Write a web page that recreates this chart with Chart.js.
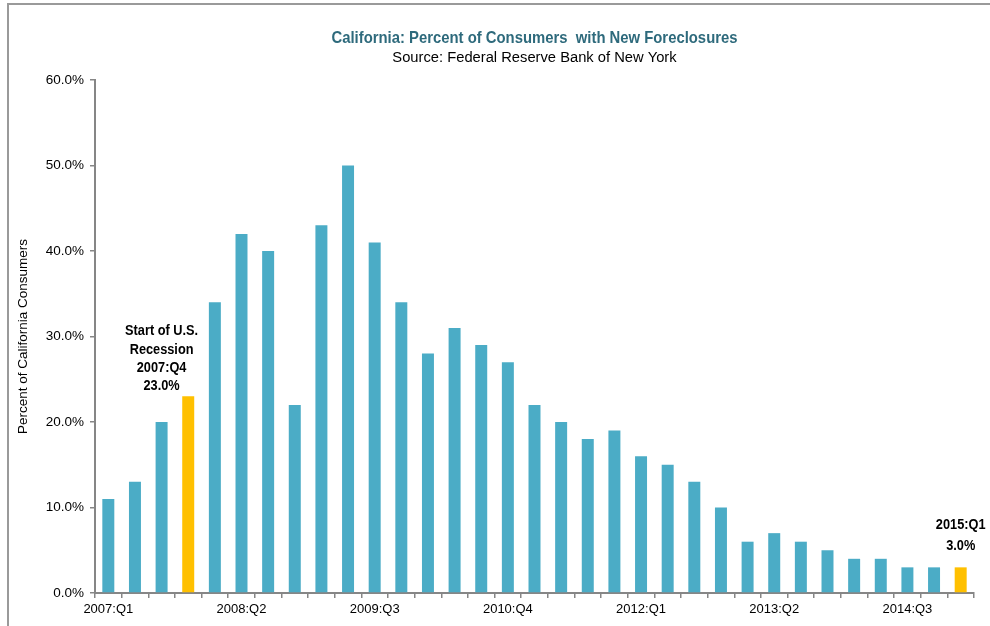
<!DOCTYPE html>
<html>
<head>
<meta charset="utf-8">
<script src="https://cdn.jsdelivr.net/npm/chart.js@4"></script>
<style>
  html, body { margin: 0; padding: 0; background: #fff; }
  #wrap { width: 990px; height: 626px; position: relative; }
</style>
</head>
<body>
<div id="wrap"><canvas id="myChart" width="990" height="626"></canvas></div>
<script>
'use strict';
// quarters 2007:Q1 .. 2015:Q1
const quarters = ['2007:Q1', '2007:Q2', '2007:Q3', '2007:Q4', '2008:Q1', '2008:Q2', '2008:Q3', '2008:Q4',
  '2009:Q1', '2009:Q2', '2009:Q3', '2009:Q4', '2010:Q1', '2010:Q2', '2010:Q3', '2010:Q4',
  '2011:Q1', '2011:Q2', '2011:Q3', '2011:Q4', '2012:Q1', '2012:Q2', '2012:Q3', '2012:Q4',
  '2013:Q1', '2013:Q2', '2013:Q3', '2013:Q4', '2014:Q1', '2014:Q2', '2014:Q3', '2014:Q4', '2015:Q1'];
const foreclosurePct = [11, 13, 20, 23, 34, 42, 40, 22, 43, 50, 41, 34, 28, 31, 29, 27,
  22, 20, 18, 19, 16, 15, 13, 10, 6, 7, 6, 5, 4, 4, 3, 3, 3];
const shownLabels = ['2007:Q1', '2008:Q2', '2009:Q3', '2010:Q4', '2012:Q1', '2013:Q2', '2014:Q3'];
const highlighted = ['2007:Q4', '2015:Q1'];
const notes = {
  '2007:Q4': ['Start of U.S.', 'Recession', '2007:Q4', '23.0%'],
  '2015:Q1': ['2015:Q1', '3.0%']
};
const chartTitle = 'California: Percent of Consumers  with New Foreclosures';
const chartSubtitle = 'Source: Federal Reserve Bank of New York';
/*----------------------------------------------*/
const blue = '#4BACC6';
const gold = '#FFC000';
const axisGray = '#868686';
const barColors = quarters.map(q => highlighted.includes(q) ? gold : blue);

// draw text squeezed sideways (the original uses a narrow font)
function narrowText(ctx, text, x, y, squeeze) {
  ctx.save();
  ctx.translate(x, y);
  ctx.scale(squeeze, 1);
  ctx.fillText(text, 0, 0);
  ctx.restore();
}

// frame lines (top + left) and the two title lines centred over the plot
const framePlugin = {
  id: 'frame',
  beforeDraw(chart) {
    const ctx = chart.ctx;
    const area = chart.chartArea;
    const cx = (area.left + area.right) / 2;
    ctx.save();
    ctx.strokeStyle = '#9a9a9a';
    ctx.lineWidth = 2;
    ctx.beginPath();
    ctx.moveTo(8, 626);
    ctx.lineTo(8, 4);
    ctx.lineTo(990, 4);
    ctx.stroke();

    ctx.textAlign = 'center';
    ctx.textBaseline = 'middle';
    ctx.fillStyle = '#2E6A7C';
    ctx.font = 'bold 16.5px "Liberation Sans", Arial, sans-serif';
    narrowText(ctx, chartTitle, cx, 38, 0.9);
    ctx.fillStyle = '#000';
    ctx.font = '15.5px "Liberation Sans", Arial, sans-serif';
    narrowText(ctx, chartSubtitle, cx, 58, 0.95);
    ctx.restore();
  }
};

// bold text notes above the highlighted bars
const notePlugin = {
  id: 'notes',
  afterDatasetsDraw(chart) {
    const ctx = chart.ctx;
    const xs = chart.scales.x;
    const ys = chart.scales.y;
    const step = xs.getPixelForValue(1) - xs.getPixelForValue(0);
    ctx.save();
    ctx.font = 'bold 14.5px "Liberation Sans", Arial, sans-serif';
    ctx.fillStyle = '#000';
    ctx.textAlign = 'center';
    ctx.textBaseline = 'middle';
    Object.keys(notes).forEach(q => {
      const i = quarters.indexOf(q);
      const lines = notes[q];
      const top = ys.getPixelForValue(foreclosurePct[i]);
      let cx = xs.getPixelForValue(i);
      if (lines.length > 2) {
        cx -= step;
      }
      const lh = lines.length > 2 ? 18.3 : 21;
      const lastY = top - (lines.length > 2 ? 10 : 21);
      lines.forEach((t, k) => {
        narrowText(ctx, t, cx, lastY - (lines.length - 1 - k) * lh, 0.88);
      });
    });
    ctx.restore();
  }
};

const ctx = document.getElementById('myChart').getContext('2d');
const chart = new Chart(ctx, {
  type: 'bar',
  data: {
    labels: quarters,
    datasets: [{
      label: 'Percent of California Consumers',
      data: foreclosurePct,
      backgroundColor: barColors,
      borderWidth: 0,
      barPercentage: 0.45,
      categoryPercentage: 1
    }]
  },
  options: {
    responsive: false,
    animation: false,
    layout: { padding: { left: 0, right: 16, top: 80, bottom: 0 } },
    plugins: {
      legend: { display: false },
      tooltip: { enabled: false },
      title: { display: false }
    },
    scales: {
      x: {
        offset: true,
        grid: { offset: true, drawOnChartArea: false, drawTicks: true, tickLength: 5, color: axisGray, lineWidth: 1.5 },
        border: { color: axisGray, width: 2 },
        ticks: {
          autoSkip: false,
          maxRotation: 0,
          color: '#000',
          padding: 4,
          font: { family: '"Liberation Sans", Arial', size: 13 },
          callback: function (v) {
            const q = quarters[v];
            return shownLabels.includes(q) ? q : '';
          }
        },
        afterFit: function (scale) { scale.height = 33; }
      },
      y: {
        min: 0,
        max: 60,
        grid: { drawOnChartArea: false, drawTicks: true, tickLength: 5, color: axisGray, lineWidth: 1.5 },
        border: { color: axisGray, width: 2 },
        ticks: {
          stepSize: 10,
          color: '#000',
          padding: 6,
          font: { family: '"Liberation Sans", Arial', size: 13.5 },
          callback: v => v.toFixed(1) + '%'
        },
        title: {
          display: true,
          text: 'Percent of California Consumers',
          color: '#000',
          font: { family: '"Liberation Sans", Arial', size: 13.5 },
          padding: { top: 15, bottom: 0 }
        },
        afterFit: function (scale) { scale.width = 95; }
      }
    }
  },
  plugins: [framePlugin, notePlugin]
});
</script>
</body>
</html>
